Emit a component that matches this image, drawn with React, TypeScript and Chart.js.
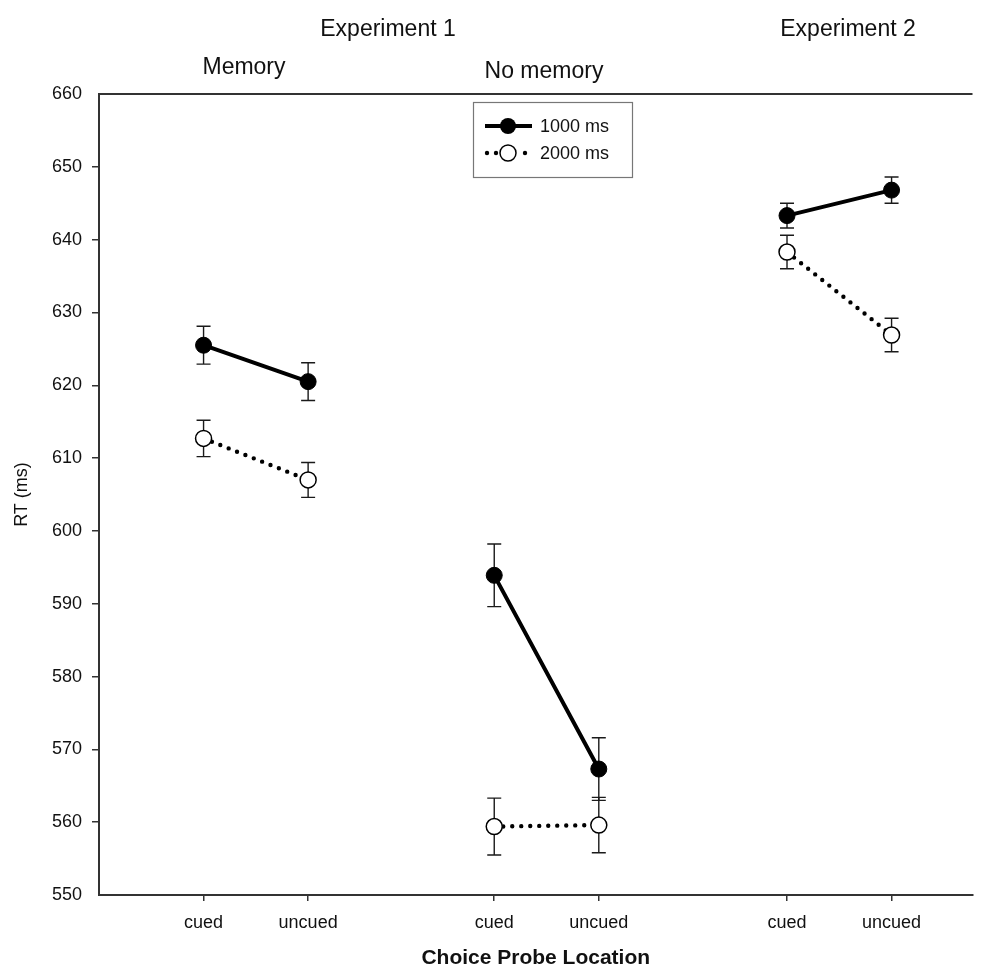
import React, { useEffect, useRef } from "react";
import { Chart, registerables } from "chart.js";

Chart.register(...registerables);

// ---------- data ----------
const categories = ["cued", "uncued", "cued", "uncued", "cued", "uncued"];
const xPositions = [1, 2, 3.78, 4.78, 6.58, 7.58];
const breakAfter = [1, 3]; // line breaks between the three conditions
const rt1000 = [625.5, 620.5, 593.9, 567.3, 643.3, 646.8];
const err1000 = [2.6, 2.6, 4.3, 4.3, 1.7, 1.8];
const rt2000 = [612.7, 607.0, 559.4, 559.6, 638.3, 626.9];
const err2000 = [2.5, 2.4, 3.9, 3.8, 2.3, 2.3];
const seriesNames = ["1000 ms", "2000 ms"];
const headerTexts = ["Experiment 1", "Memory", "No memory", "Experiment 2"];
const yMin = 550;
const yMax = 660;
const yStep = 10;

const FONT = "'Liberation Sans', Arial, Helvetica, sans-serif";

function buildPoints(values: number[], errs: number[]) {
  const pts: any[] = [];
  const e: (number | null)[] = [];
  values.forEach((v, i) => {
    pts.push({ x: xPositions[i], y: v });
    e.push(errs[i]);
    if (breakAfter.includes(i)) {
      pts.push({ x: (xPositions[i] + xPositions[i + 1]) / 2, y: null });
      e.push(null);
    }
  });
  return { pts, e };
}

const errorBarPlugin = {
  id: "errorBars",
  beforeDatasetsDraw(chart: any) {
    const { ctx } = chart;
    const yScale = chart.scales.y;
    ctx.save();
    ctx.strokeStyle = "#1a1a1a";
    ctx.lineWidth = 1.4;
    chart.data.datasets.forEach((ds: any, di: number) => {
      const meta = chart.getDatasetMeta(di);
      meta.data.forEach((pt: any, i: number) => {
        const v = ds.data[i].y;
        const err = ds.errors[i];
        if (v == null || err == null) return;
        const x = pt.x;
        const yTop = yScale.getPixelForValue(v + err);
        const yBot = yScale.getPixelForValue(v - err);
        ctx.beginPath();
        ctx.moveTo(x, yTop);
        ctx.lineTo(x, yBot);
        ctx.moveTo(x - 7, yTop);
        ctx.lineTo(x + 7, yTop);
        ctx.moveTo(x - 7, yBot);
        ctx.lineTo(x + 7, yBot);
        ctx.stroke();
      });
    });
    ctx.restore();
  },
};

const decorPlugin = {
  id: "decor",
  afterDraw(chart: any) {
    const { ctx, chartArea } = chart;
    ctx.save();
    // top frame line
    ctx.strokeStyle = "#333";
    ctx.lineWidth = 2;
    ctx.beginPath();
    ctx.moveTo(chartArea.left - 1, chartArea.top);
    ctx.lineTo(chartArea.right, chartArea.top);
    ctx.stroke();

    // header texts
    ctx.fillStyle = "#111";
    ctx.textAlign = "center";
    ctx.textBaseline = "middle";
    ctx.font = `23px ${FONT}`;
    const headerPos = [
      [388, 30],
      [244, 68],
      [544, 72],
      [848, 30],
    ];
    headerTexts.forEach((t, i) => ctx.fillText(t, headerPos[i][0], headerPos[i][1]));

    // legend box
    const bx = 473, by = 102, bw = 159, bh = 75;
    ctx.strokeStyle = "#777";
    ctx.lineWidth = 1.2;
    ctx.strokeRect(bx + 0.5, by + 0.5, bw, bh);

    const rows = [126, 153];
    // row 1: solid
    ctx.strokeStyle = "#000";
    ctx.lineWidth = 4;
    ctx.beginPath();
    ctx.moveTo(485, rows[0]);
    ctx.lineTo(532, rows[0]);
    ctx.stroke();
    ctx.fillStyle = "#000";
    ctx.beginPath();
    ctx.arc(508, rows[0], 8, 0, Math.PI * 2);
    ctx.fill();
    // row 2: dotted + hollow
    [487, 496, 525].forEach((dx) => {
      ctx.beginPath();
      ctx.arc(dx, rows[1], 2.2, 0, Math.PI * 2);
      ctx.fill();
    });
    ctx.fillStyle = "#fff";
    ctx.strokeStyle = "#000";
    ctx.lineWidth = 1.5;
    ctx.beginPath();
    ctx.arc(508, rows[1], 8, 0, Math.PI * 2);
    ctx.fill();
    ctx.stroke();

    ctx.fillStyle = "#111";
    ctx.textAlign = "left";
    ctx.font = `18px ${FONT}`;
    ctx.fillText(seriesNames[0], 540, rows[0] + 1);
    ctx.fillText(seriesNames[1], 540, rows[1] + 1);
    ctx.restore();
  },
};

export default function App() {
  const canvasRef = useRef<HTMLCanvasElement | null>(null);

  useEffect(() => {
    document.body.style.margin = "0";
    document.body.style.overflow = "hidden";
    const s1 = buildPoints(rt1000, err1000);
    const s2 = buildPoints(rt2000, err2000);
    const chart = new Chart(canvasRef.current as HTMLCanvasElement, {
      type: "line",
      data: {
        datasets: [
          {
            label: seriesNames[0],
            data: s1.pts,
            errors: s1.e,
            borderColor: "#000",
            borderWidth: 4,
            pointRadius: 8,
            pointBackgroundColor: "#000",
            pointBorderColor: "#000",
            pointBorderWidth: 1,
            spanGaps: false,
            order: 2,
          } as any,
          {
            label: seriesNames[1],
            data: s2.pts,
            errors: s2.e,
            borderColor: "#000",
            borderWidth: 4.4,
            borderDash: [0, 9],
            borderCapStyle: "round",
            pointRadius: 8,
            pointBackgroundColor: "#fff",
            pointBorderColor: "#000",
            pointBorderWidth: 1.5,
            spanGaps: false,
            order: 1,
          } as any,
        ],
      },
      options: {
        animation: false,
        responsive: false,
        maintainAspectRatio: false,
        layout: { padding: { top: 94, left: 0, right: 0, bottom: 0 } },
        plugins: {
          legend: { display: false },
          tooltip: { enabled: false },
        },
        scales: {
          x: {
            type: "linear",
            min: 0,
            max: 8.354,
            afterBuildTicks: (scale: any) => {
              scale.ticks = xPositions.map((v) => ({ value: v }));
            },
            afterFit: (scale: any) => {
              scale.height = 79;
            },
            ticks: {
              autoSkip: false,
              maxRotation: 0,
              padding: 11,
              color: "#111",
              font: { family: FONT, size: 18 },
              callback: (value: any) => {
                const idx = xPositions.findIndex((p) => Math.abs(p - Number(value)) < 1e-6);
                return idx >= 0 ? categories[idx] : "";
              },
            },
            grid: {
              drawOnChartArea: false,
              drawTicks: true,
              tickLength: 6,
              color: "#333",
              lineWidth: 1.5,
            },
            border: { display: true, color: "#333", width: 2 },
            title: {
              display: true,
              text: "Choice Probe Location",
              color: "#111",
              font: { family: FONT, size: 21, weight: "bold" },
              padding: { top: 0, bottom: 3 },
            },
          },
          y: {
            type: "linear",
            min: yMin,
            max: yMax,
            afterFit: (scale: any) => {
              scale.width = 99;
            },
            ticks: {
              stepSize: yStep,
              padding: 10,
              color: "#111",
              font: { family: FONT, size: 18 },
            },
            grid: {
              drawOnChartArea: false,
              drawTicks: true,
              tickLength: 7,
              lineWidth: 1.5,
              color: (ctx: any) =>
                ctx.tick && (ctx.tick.value === yMin || ctx.tick.value === yMax)
                  ? "rgba(0,0,0,0)"
                  : "#333",
            },
            border: { display: true, color: "#333", width: 2 },
            title: {
              display: true,
              text: "RT (ms)",
              color: "#111",
              font: { family: FONT, size: 18 },
              padding: { top: 11, bottom: 0 },
            },
          },
        },
      } as any,
      plugins: [errorBarPlugin, decorPlugin],
    });
    return () => chart.destroy();
  }, []);

  return (
    <div style={{ width: 982, height: 974 }}>
      <canvas ref={canvasRef} width={982} height={974} style={{ display: "block" }} />
    </div>
  );
}
